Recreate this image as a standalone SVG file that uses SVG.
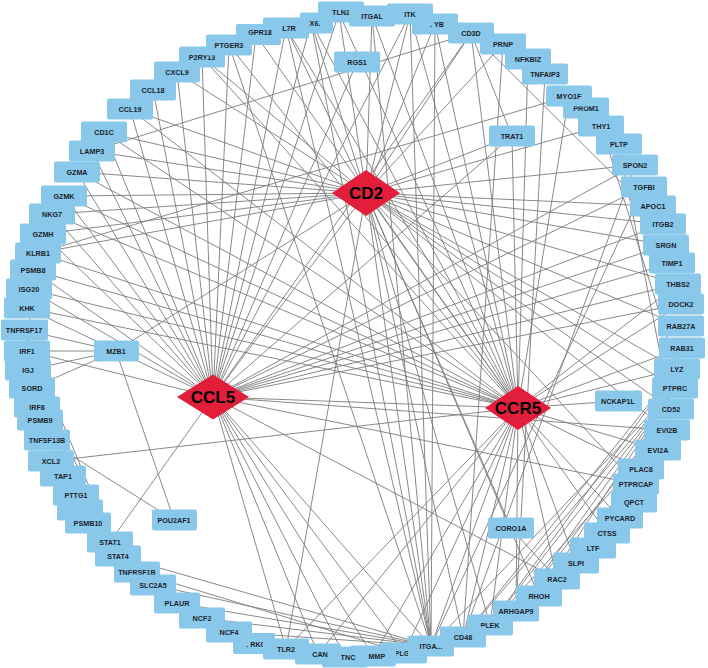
<svg xmlns="http://www.w3.org/2000/svg" width="708" height="668" viewBox="0 0 708 668">
<style>
.e line{stroke:#7c7c7c;stroke-width:0.9;fill:none}
.n rect{fill:#89C8EA}
.n text{font-family:"Liberation Sans",Arial,sans-serif;font-size:7.2px;font-weight:bold;fill:#1b1f2b;text-anchor:middle}
.h polygon{fill:#E21E3A}
.h text{font-family:"Liberation Sans",Arial,sans-serif;font-size:17px;font-weight:bold;fill:#000;text-anchor:middle}
</style>
<rect width="708" height="668" fill="#fff"/>
<g id="edges" class="e">
<line x1="366" y1="193" x2="213" y2="397"/><line x1="366" y1="193" x2="518" y2="408"/><line x1="213" y1="397" x2="518" y2="408"/>
<line x1="366" y1="193" x2="104" y2="132"/><line x1="366" y1="193" x2="92" y2="151"/><line x1="366" y1="193" x2="77" y2="172"/><line x1="366" y1="193" x2="64" y2="196"/><line x1="366" y1="193" x2="52" y2="214"/><line x1="366" y1="193" x2="43" y2="234"/><line x1="366" y1="193" x2="38" y2="253"/><line x1="366" y1="193" x2="130" y2="109"/><line x1="366" y1="193" x2="177" y2="72"/><line x1="366" y1="193" x2="202" y2="57"/><line x1="366" y1="193" x2="286" y2="28"/><line x1="366" y1="193" x2="311" y2="22"/><line x1="366" y1="193" x2="339" y2="13"/><line x1="366" y1="193" x2="372" y2="16"/><line x1="366" y1="193" x2="410" y2="14"/><line x1="366" y1="193" x2="435" y2="24"/><line x1="366" y1="193" x2="471" y2="33"/><line x1="366" y1="193" x2="503" y2="44"/><line x1="366" y1="193" x2="512" y2="136"/><line x1="366" y1="193" x2="601" y2="126"/><line x1="366" y1="193" x2="635" y2="165"/><line x1="366" y1="193" x2="653" y2="206"/><line x1="366" y1="193" x2="663" y2="224"/><line x1="366" y1="193" x2="666" y2="245"/><line x1="366" y1="193" x2="678" y2="284"/><line x1="366" y1="193" x2="681" y2="326"/><line x1="366" y1="193" x2="677" y2="369"/><line x1="366" y1="193" x2="675" y2="388"/><line x1="366" y1="193" x2="671" y2="409"/><line x1="366" y1="193" x2="667" y2="430"/><line x1="366" y1="193" x2="116" y2="351"/><line x1="366" y1="193" x2="431" y2="646"/><line x1="366" y1="193" x2="463" y2="637"/><line x1="366" y1="193" x2="490" y2="625"/><line x1="366" y1="193" x2="539" y2="596"/><line x1="366" y1="193" x2="286" y2="649"/><line x1="366" y1="193" x2="636" y2="484"/><line x1="366" y1="193" x2="511" y2="528"/>
<line x1="518" y1="408" x2="130" y2="109"/><line x1="518" y1="408" x2="77" y2="172"/><line x1="518" y1="408" x2="64" y2="196"/><line x1="518" y1="408" x2="52" y2="214"/><line x1="518" y1="408" x2="38" y2="253"/><line x1="518" y1="408" x2="33" y2="270"/><line x1="518" y1="408" x2="27" y2="308"/><line x1="518" y1="408" x2="202" y2="57"/><line x1="518" y1="408" x2="229" y2="45"/><line x1="518" y1="408" x2="256" y2="35"/><line x1="518" y1="408" x2="286" y2="28"/><line x1="518" y1="408" x2="311" y2="22"/><line x1="518" y1="408" x2="339" y2="13"/><line x1="518" y1="408" x2="372" y2="16"/><line x1="518" y1="408" x2="410" y2="14"/><line x1="518" y1="408" x2="435" y2="24"/><line x1="518" y1="408" x2="471" y2="33"/><line x1="518" y1="408" x2="528" y2="59"/><line x1="518" y1="408" x2="569" y2="96"/><line x1="518" y1="408" x2="512" y2="136"/><line x1="518" y1="408" x2="618" y2="401"/><line x1="518" y1="408" x2="677" y2="369"/><line x1="518" y1="408" x2="682" y2="348"/><line x1="518" y1="408" x2="681" y2="304"/><line x1="518" y1="408" x2="678" y2="284"/><line x1="518" y1="408" x2="658" y2="450"/><line x1="518" y1="408" x2="641" y2="469"/><line x1="518" y1="408" x2="620" y2="518"/><line x1="518" y1="408" x2="607" y2="533"/><line x1="518" y1="408" x2="576" y2="563"/><line x1="518" y1="408" x2="557" y2="579"/><line x1="518" y1="408" x2="516" y2="611"/><line x1="518" y1="408" x2="490" y2="625"/><line x1="518" y1="408" x2="463" y2="637"/><line x1="518" y1="408" x2="431" y2="646"/><line x1="518" y1="408" x2="404" y2="653"/><line x1="518" y1="408" x2="373" y2="656"/><line x1="518" y1="408" x2="286" y2="649"/><line x1="518" y1="408" x2="318" y2="654"/><line x1="518" y1="408" x2="51" y2="461"/><line x1="518" y1="408" x2="104" y2="132"/><line x1="518" y1="408" x2="29" y2="289"/>
<line x1="213" y1="397" x2="130" y2="109"/><line x1="213" y1="397" x2="153" y2="90"/><line x1="213" y1="397" x2="177" y2="72"/><line x1="213" y1="397" x2="202" y2="57"/><line x1="213" y1="397" x2="229" y2="45"/><line x1="213" y1="397" x2="256" y2="35"/><line x1="213" y1="397" x2="286" y2="28"/><line x1="213" y1="397" x2="311" y2="22"/><line x1="213" y1="397" x2="104" y2="132"/><line x1="213" y1="397" x2="92" y2="151"/><line x1="213" y1="397" x2="77" y2="172"/><line x1="213" y1="397" x2="64" y2="196"/><line x1="213" y1="397" x2="52" y2="214"/><line x1="213" y1="397" x2="43" y2="234"/><line x1="213" y1="397" x2="33" y2="270"/><line x1="213" y1="397" x2="29" y2="289"/><line x1="213" y1="397" x2="27" y2="308"/><line x1="213" y1="397" x2="27" y2="351"/><line x1="213" y1="397" x2="110" y2="542"/><line x1="213" y1="397" x2="286" y2="649"/><line x1="213" y1="397" x2="318" y2="654"/><line x1="213" y1="397" x2="345" y2="657"/><line x1="213" y1="397" x2="431" y2="646"/><line x1="213" y1="397" x2="404" y2="653"/><line x1="213" y1="397" x2="357" y2="62"/><line x1="213" y1="397" x2="471" y2="33"/><line x1="213" y1="397" x2="410" y2="14"/><line x1="213" y1="397" x2="339" y2="13"/><line x1="213" y1="397" x2="512" y2="136"/><line x1="213" y1="397" x2="635" y2="165"/><line x1="213" y1="397" x2="644" y2="187"/><line x1="213" y1="397" x2="663" y2="224"/><line x1="213" y1="397" x2="666" y2="245"/><line x1="213" y1="397" x2="672" y2="263"/><line x1="213" y1="397" x2="678" y2="284"/><line x1="213" y1="397" x2="557" y2="579"/><line x1="213" y1="397" x2="636" y2="484"/><line x1="213" y1="397" x2="667" y2="430"/><line x1="213" y1="397" x2="681" y2="304"/><line x1="213" y1="397" x2="373" y2="656"/>
<line x1="116" y1="351" x2="24" y2="330"/><line x1="116" y1="351" x2="27" y2="351"/><line x1="116" y1="351" x2="28" y2="370"/><line x1="116" y1="351" x2="32" y2="388"/><line x1="116" y1="351" x2="174" y2="520"/><line x1="47" y1="440" x2="174" y2="520"/><line x1="24" y1="330" x2="88" y2="523"/><line x1="27" y1="308" x2="76" y2="495"/><line x1="27" y1="351" x2="110" y2="542"/><line x1="27" y1="351" x2="63" y2="476"/><line x1="28" y1="370" x2="110" y2="542"/><line x1="32" y1="388" x2="118" y2="556"/><line x1="24" y1="330" x2="118" y2="556"/><line x1="511" y1="528" x2="557" y2="579"/><line x1="471" y1="33" x2="92" y2="151"/><line x1="471" y1="33" x2="512" y2="136"/><line x1="471" y1="33" x2="663" y2="224"/><line x1="569" y1="96" x2="38" y2="253"/><line x1="503" y1="44" x2="463" y2="637"/><line x1="545" y1="74" x2="516" y2="611"/><line x1="601" y1="126" x2="677" y2="369"/><line x1="619" y1="144" x2="671" y2="409"/><line x1="635" y1="165" x2="463" y2="637"/><line x1="644" y1="187" x2="431" y2="646"/><line x1="118" y1="556" x2="431" y2="646"/><line x1="153" y1="585" x2="431" y2="646"/><line x1="177" y1="603" x2="431" y2="646"/><line x1="202" y1="618" x2="431" y2="646"/><line x1="229" y1="632" x2="431" y2="646"/><line x1="137" y1="572" x2="404" y2="653"/><line x1="372" y1="16" x2="431" y2="646"/><line x1="410" y1="14" x2="431" y2="646"/><line x1="435" y1="24" x2="431" y2="646"/><line x1="311" y1="22" x2="431" y2="646"/><line x1="286" y1="28" x2="431" y2="646"/><line x1="490" y1="625" x2="675" y2="388"/><line x1="516" y1="611" x2="675" y2="388"/><line x1="539" y1="596" x2="675" y2="388"/><line x1="463" y1="637" x2="675" y2="388"/><line x1="490" y1="625" x2="667" y2="430"/><line x1="516" y1="611" x2="671" y2="409"/><line x1="539" y1="596" x2="658" y2="450"/><line x1="593" y1="548" x2="677" y2="369"/><line x1="576" y1="563" x2="671" y2="409"/><line x1="607" y1="533" x2="682" y2="348"/><line x1="463" y1="637" x2="677" y2="369"/><line x1="490" y1="625" x2="677" y2="369"/><line x1="431" y1="646" x2="675" y2="388"/><line x1="229" y1="45" x2="431" y2="646"/>
</g>
<g id="nodes">
<g id="n-CCL19" class="n"><rect x="107" y="98.5" width="46" height="21" rx="2"/><text x="130" y="111.5">CCL19</text></g>
<g id="n-CCL18" class="n"><rect x="130" y="79.5" width="46" height="21" rx="2"/><text x="153" y="92.5">CCL18</text></g>
<g id="n-CXCL9" class="n"><rect x="154" y="61.5" width="46" height="21" rx="2"/><text x="177" y="74.5">CXCL9</text></g>
<g id="n-P2RY13" class="n"><rect x="179" y="46.5" width="46" height="21" rx="2"/><text x="202" y="59.5">P2RY13</text></g>
<g id="n-IL7R" class="n"><rect x="263" y="17.5" width="46" height="21" rx="2"/><text x="289" y="30.5">L7R</text></g>
<g id="n-GPR18" class="n"><rect x="236" y="24" width="45" height="21" rx="2"/><text x="260" y="35">GPR18</text></g>
<g id="n-PTGER3" class="n"><rect x="206" y="34.5" width="46" height="21" rx="2"/><text x="229" y="47.5">PTGER3</text></g>
<g id="n-TLN2" class="n"><rect x="318" y="1.5" width="46" height="21" rx="2"/><text x="341" y="14.5">TLN2</text></g>
<g id="n-CD6" class="n"><rect x="300" y="12.5" width="33" height="21" rx="2"/><text x="315" y="25.5">X6.</text></g>
<g id="n-ITGAL" class="n"><rect x="349" y="5.5" width="46" height="21" rx="2"/><text x="372" y="18.5">ITGAL</text></g>
<g id="n-LYB" class="n"><rect x="412" y="13.5" width="46" height="21" rx="2"/><text x="437" y="26.5">. YB</text></g>
<g id="n-ITK" class="n"><rect x="387" y="3.5" width="46" height="21" rx="2"/><text x="410" y="16.5">ITK</text></g>
<g id="n-CD3D" class="n"><rect x="448" y="22.5" width="46" height="21" rx="2"/><text x="471" y="35.5">CD3D</text></g>
<g id="n-PRNP" class="n"><rect x="480" y="33.5" width="46" height="21" rx="2"/><text x="503" y="46.5">PRNP</text></g>
<g id="n-NFKBIZ" class="n"><rect x="505" y="48.5" width="46" height="21" rx="2"/><text x="528" y="61.5">NFKBIZ</text></g>
<g id="n-TNFAIP3" class="n"><rect x="522" y="63.5" width="46" height="21" rx="2"/><text x="545" y="76.5">TNFAIP3</text></g>
<g id="n-PROM1" class="n"><rect x="563" y="97.5" width="46" height="21" rx="2"/><text x="586" y="110.5">PROM1</text></g>
<g id="n-MYO1F" class="n"><rect x="546" y="85.5" width="46" height="21" rx="2"/><text x="569" y="98.5">MYO1F</text></g>
<g id="n-THY1" class="n"><rect x="578" y="115.5" width="46" height="21" rx="2"/><text x="601" y="128.5">THY1</text></g>
<g id="n-PLTP" class="n"><rect x="596" y="133.5" width="46" height="21" rx="2"/><text x="619" y="146.5">PLTP</text></g>
<g id="n-SPON2" class="n"><rect x="612" y="154.5" width="46" height="21" rx="2"/><text x="635" y="167.5">SPON2</text></g>
<g id="n-TGFBI" class="n"><rect x="621" y="176.5" width="46" height="21" rx="2"/><text x="644" y="189.5">TGFBI</text></g>
<g id="n-APOC1" class="n"><rect x="630" y="195.5" width="46" height="21" rx="2"/><text x="653" y="208.5">APOC1</text></g>
<g id="n-ITGB2" class="n"><rect x="640" y="213.5" width="46" height="21" rx="2"/><text x="663" y="226.5">ITGB2</text></g>
<g id="n-SRGN" class="n"><rect x="643" y="234.5" width="46" height="21" rx="2"/><text x="666" y="247.5">SRGN</text></g>
<g id="n-TIMP1" class="n"><rect x="649" y="252.5" width="46" height="21" rx="2"/><text x="672" y="265.5">TIMP1</text></g>
<g id="n-THBS2" class="n"><rect x="655" y="273.5" width="46" height="21" rx="2"/><text x="678" y="286.5">THBS2</text></g>
<g id="n-DOCK2" class="n"><rect x="658" y="293.5" width="46" height="21" rx="2"/><text x="681" y="306.5">DOCK2</text></g>
<g id="n-RAB27A" class="n"><rect x="658" y="315.5" width="46" height="21" rx="2"/><text x="681" y="328.5">RAB27A</text></g>
<g id="n-RAB31" class="n"><rect x="659" y="337.5" width="46" height="21" rx="2"/><text x="682" y="350.5">RAB31</text></g>
<g id="n-LYZ" class="n"><rect x="654" y="358.5" width="46" height="21" rx="2"/><text x="677" y="371.5">LYZ</text></g>
<g id="n-PTPRC" class="n"><rect x="652" y="377.5" width="46" height="21" rx="2"/><text x="675" y="390.5">PTPRC</text></g>
<g id="n-CD52" class="n"><rect x="648" y="398.5" width="46" height="21" rx="2"/><text x="671" y="411.5">CD52</text></g>
<g id="n-EVI2B" class="n"><rect x="644" y="419.5" width="46" height="21" rx="2"/><text x="667" y="432.5">EVI2B</text></g>
<g id="n-EVI2A" class="n"><rect x="635" y="439.5" width="46" height="21" rx="2"/><text x="658" y="452.5">EVI2A</text></g>
<g id="n-PLAC8" class="n"><rect x="618" y="458.5" width="46" height="21" rx="2"/><text x="641" y="471.5">PLAC8</text></g>
<g id="n-PTPRCAP" class="n"><rect x="613" y="473.5" width="46" height="21" rx="2"/><text x="636" y="486.5">PTPRCAP</text></g>
<g id="n-QPCT" class="n"><rect x="611" y="491.5" width="46" height="21" rx="2"/><text x="634" y="504.5">QPCT</text></g>
<g id="n-PYCARD" class="n"><rect x="597" y="507.5" width="46" height="21" rx="2"/><text x="620" y="520.5">PYCARD</text></g>
<g id="n-CTSS" class="n"><rect x="584" y="522.5" width="46" height="21" rx="2"/><text x="607" y="535.5">CTSS</text></g>
<g id="n-LTF" class="n"><rect x="570" y="537.5" width="46" height="21" rx="2"/><text x="593" y="550.5">LTF</text></g>
<g id="n-SLPI" class="n"><rect x="553" y="552.5" width="46" height="21" rx="2"/><text x="576" y="565.5">SLPI</text></g>
<g id="n-RAC2" class="n"><rect x="534" y="568.5" width="46" height="21" rx="2"/><text x="557" y="581.5">RAC2</text></g>
<g id="n-RHOH" class="n"><rect x="516" y="585.5" width="46" height="21" rx="2"/><text x="539" y="598.5">RHOH</text></g>
<g id="n-ARHGAP9" class="n"><rect x="493" y="600.5" width="46" height="21" rx="2"/><text x="516" y="613.5">ARHGAP9</text></g>
<g id="n-PLEK" class="n"><rect x="467" y="614.5" width="46" height="21" rx="2"/><text x="490" y="627.5">PLEK</text></g>
<g id="n-CD48" class="n"><rect x="440" y="626.5" width="46" height="21" rx="2"/><text x="463" y="639.5">CD48</text></g>
<g id="n-PLG" class="n"><rect x="381" y="642.5" width="46" height="21" rx="2"/><text x="402" y="655.5">PLG</text></g>
<g id="n-ITGAM" class="n"><rect x="408" y="635.5" width="46" height="21" rx="2"/><text x="431" y="648.5">ITGA...</text></g>
<g id="n-MMP" class="n"><rect x="350" y="645.5" width="46" height="21" rx="2"/><text x="377" y="658.5">MMP</text></g>
<g id="n-TNC" class="n"><rect x="322" y="646.5" width="46" height="21" rx="2"/><text x="348" y="659.5">TNC</text></g>
<g id="n-VCAN" class="n"><rect x="295" y="643.5" width="46" height="21" rx="2"/><text x="320" y="656.5">CAN</text></g>
<g id="n-PRKC" class="n"><rect x="233" y="633" width="42" height="21" rx="2"/><text x="256" y="647">. RKC</text></g>
<g id="n-TLR2" class="n"><rect x="263" y="638.5" width="46" height="21" rx="2"/><text x="286" y="651.5">TLR2</text></g>
<g id="n-NCF4" class="n"><rect x="206" y="621.5" width="46" height="21" rx="2"/><text x="229" y="634.5">NCF4</text></g>
<g id="n-NCF2" class="n"><rect x="179" y="607.5" width="46" height="21" rx="2"/><text x="202" y="620.5">NCF2</text></g>
<g id="n-PLAUR" class="n"><rect x="154" y="592.5" width="46" height="21" rx="2"/><text x="177" y="605.5">PLAUR</text></g>
<g id="n-TNFRSF1B" class="n"><rect x="114" y="561.5" width="46" height="21" rx="2"/><text x="137" y="574.5">TNFRSF1B</text></g>
<g id="n-SLC2A5" class="n"><rect x="130" y="574.5" width="46" height="21" rx="2"/><text x="153" y="587.5">SLC2A5</text></g>
<g id="n-STAT4" class="n"><rect x="95" y="545.5" width="46" height="21" rx="2"/><text x="118" y="558.5">STAT4</text></g>
<g id="n-STAT1" class="n"><rect x="87" y="531.5" width="46" height="21" rx="2"/><text x="110" y="544.5">STAT1</text></g>
<g id="n-HID" class="n"><rect x="57" y="499.5" width="46" height="21" rx="2"/></g>
<g id="n-PSMB10" class="n"><rect x="65" y="512.5" width="46" height="21" rx="2"/><text x="88" y="525.5">PSMB10</text></g>
<g id="n-PTTG1" class="n"><rect x="53" y="484.5" width="46" height="21" rx="2"/><text x="76" y="497.5">PTTG1</text></g>
<g id="n-TAP1" class="n"><rect x="40" y="465.5" width="46" height="21" rx="2"/><text x="63" y="478.5">TAP1</text></g>
<g id="n-XCL2" class="n"><rect x="28" y="450.5" width="46" height="21" rx="2"/><text x="51" y="463.5">XCL2</text></g>
<g id="n-TNFSF13B" class="n"><rect x="24" y="429.5" width="46" height="21" rx="2"/><text x="47" y="442.5">TNFSF13B</text></g>
<g id="n-PSMB9" class="n"><rect x="17" y="409.5" width="46" height="21" rx="2"/><text x="40" y="422.5">PSMB9</text></g>
<g id="n-IRF8" class="n"><rect x="14" y="396.5" width="46" height="21" rx="2"/><text x="37" y="409.5">IRF8</text></g>
<g id="n-SORD" class="n"><rect x="9" y="377.5" width="46" height="21" rx="2"/><text x="32" y="390.5">SORD</text></g>
<g id="n-IGJ" class="n"><rect x="5" y="359.5" width="46" height="21" rx="2"/><text x="28" y="372.5">IGJ</text></g>
<g id="n-IRF1" class="n"><rect x="4" y="340.5" width="46" height="21" rx="2"/><text x="27" y="353.5">IRF1</text></g>
<g id="n-TNFRSF17" class="n"><rect x="1" y="319.5" width="47" height="21" rx="2"/><text x="24" y="332.5">TNFRSF17</text></g>
<g id="n-KHK" class="n"><rect x="4" y="297.5" width="46" height="21" rx="2"/><text x="27" y="310.5">KHK</text></g>
<g id="n-ISG20" class="n"><rect x="6" y="278.5" width="46" height="21" rx="2"/><text x="29" y="291.5">ISG20</text></g>
<g id="n-PSMB8" class="n"><rect x="10" y="259.5" width="46" height="21" rx="2"/><text x="33" y="272.5">PSMB8</text></g>
<g id="n-KLRB1" class="n"><rect x="15" y="242.5" width="46" height="21" rx="2"/><text x="38" y="255.5">KLRB1</text></g>
<g id="n-GZMH" class="n"><rect x="20" y="223.5" width="46" height="21" rx="2"/><text x="43" y="236.5">GZMH</text></g>
<g id="n-NKG7" class="n"><rect x="29" y="203.5" width="46" height="21" rx="2"/><text x="52" y="216.5">NKG7</text></g>
<g id="n-GZMK" class="n"><rect x="41" y="185.5" width="46" height="21" rx="2"/><text x="64" y="198.5">GZMK</text></g>
<g id="n-GZMA" class="n"><rect x="54" y="161.5" width="46" height="21" rx="2"/><text x="77" y="174.5">GZMA</text></g>
<g id="n-LAMP3" class="n"><rect x="69" y="140.5" width="46" height="21" rx="2"/><text x="92" y="153.5">LAMP3</text></g>
<g id="n-CD1C" class="n"><rect x="81" y="121.5" width="46" height="21" rx="2"/><text x="104" y="134.5">CD1C</text></g>
<g id="n-RGS1" class="n"><rect x="334" y="51.5" width="46" height="21" rx="2"/><text x="357" y="64.5">RGS1</text></g>
<g id="n-TRAT1" class="n"><rect x="489" y="125.5" width="46" height="21" rx="2"/><text x="512" y="138.5">TRAT1</text></g>
<g id="n-MZB1" class="n"><rect x="94" y="340.5" width="45" height="21" rx="2"/><text x="116" y="353.5">MZB1</text></g>
<g id="n-POU2AF1" class="n"><rect x="152" y="509.5" width="45" height="21" rx="2"/><text x="174" y="522.5">POU2AF1</text></g>
<g id="n-CORO1A" class="n"><rect x="488" y="517.5" width="46" height="21" rx="2"/><text x="511" y="530.5">CORO1A</text></g>
<g id="n-NCKAP1L" class="n"><rect x="595" y="390.5" width="47" height="21" rx="2"/><text x="618" y="403.5">NCKAP1L</text></g>
<g id="n-CD2" class="h"><polygon points="366,170 400,193 366,216 332,193"/><text x="366" y="199">CD2</text></g>
<g id="n-CCL5" class="h"><polygon points="213,374.5 249,397 213,419.5 177,397"/><text x="213" y="403">CCL5</text></g>
<g id="n-CCR5" class="h"><polygon points="518,386 551,408 518,430 485,408"/><text x="518" y="414">CCR5</text></g>
</g>
</svg>
